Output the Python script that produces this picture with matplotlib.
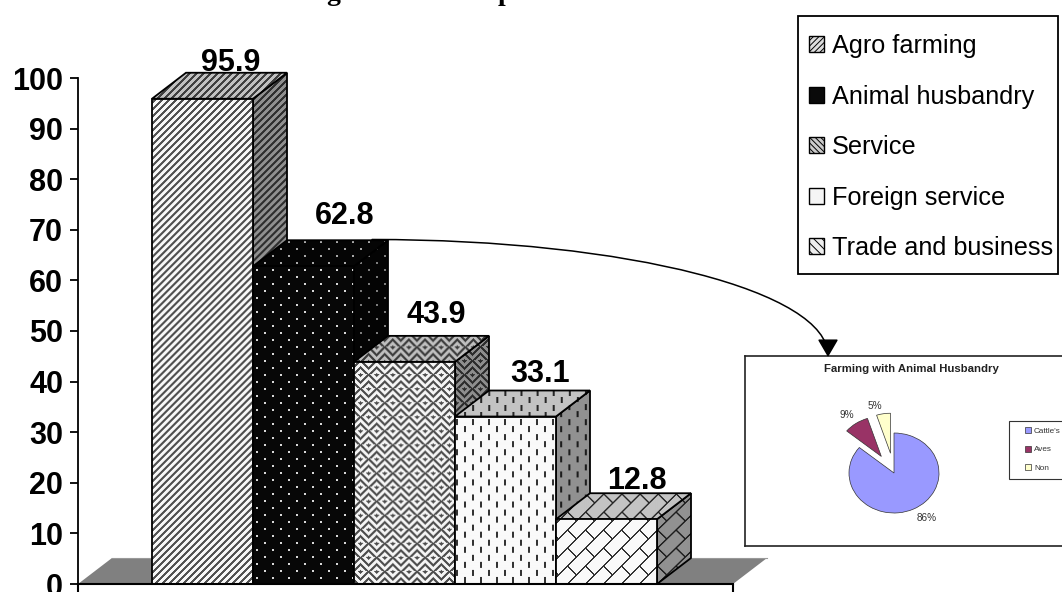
import matplotlib
matplotlib.use("Agg")
import matplotlib.pyplot as plt
import numpy as np
from matplotlib.patches import Patch, Polygon, Rectangle, FancyArrowPatch
from matplotlib.path import Path

plt.rcParams['font.family'] = ['Liberation Sans', 'DejaVu Sans']
plt.rcParams['hatch.linewidth'] = 0.7

categories = ['Agro farming', 'Animal husbandry', 'Service', 'Foreign service', 'Trade and business']
values = [95.9, 62.8, 43.9, 33.1, 12.8]
y_ticks = [0, 10, 20, 30, 40, 50, 60, 70, 80, 90, 100]

pie_labels = ["Cattle's", 'Aves', 'Non']
pie_values = [86, 9, 5]
pie_colors = ['#9999FF', '#993366', '#FFFFCC']

W, H = 1062, 592
PX_X = 101.0    # pixels per category
PX_Y = 5.06     # pixels per percent
DEPTH_X = 34 / PX_X
DEPTH_Y = 26 / PX_Y
LW = 1.3


# fill patterns, each takes pixel columns and rows and gives grey levels
def stripes(c, r):
    return np.where((c + r) % 7 < 3, 0.32, 0.97)


def dots(c, r):
    a = (c % 16 < 1.5) & (r % 14 < 1.5)
    b = ((c + 8) % 16 < 1.5) & ((r + 7) % 14 < 1.5)
    return np.where(a | b, 0.85, 0.03)


def chevrons(c, r):
    # zigzag rows, shifted sideways every few rows so the columns do not line up
    shift = np.floor(r / 14) * 8
    tri = np.abs((c + shift) % 16 - 8)
    return np.where((r + tri) % 7 < 3, 0.3, 0.96)


def dashes(c, r):
    a = (c % 16 < 2) & (r % 15 < 6)
    b = ((c + 8) % 16 < 2) & ((r + 7.5) % 15 < 6)
    return np.where(a | b, 0.2, 0.98)


def bricks(c, r):
    u = c + r
    v = c - r
    row = np.floor(u / 18)
    line = (u % 18 < 2) | ((v + row * 18) % 36 < 2)
    return np.where(line, 0.2, 0.98)


patterns = [stripes, dots, chevrons, dashes, bricks]
legend_hatches = ['//////', None, '\\\\\\\\\\\\', '|', '\\\\\\\\']
legend_faces = ['#dddddd', '#0a0a0a', '#cccccc', '#f5f5f5', '#eeeeee']


def textured_face(ax, verts, pattern, shade, z):
    """Fill a polygon given in data units with a shaded pixel pattern."""
    verts = np.array(verts)
    x0, x1 = verts[:, 0].min(), verts[:, 0].max()
    y0, y1 = verts[:, 1].min(), verts[:, 1].max()
    nx = int(round((x1 - x0) * PX_X))
    ny = int(round((y1 - y0) * PX_Y))
    c, r = np.meshgrid(np.arange(nx) + x0 * PX_X, np.arange(ny) - y1 * PX_Y)
    img = pattern(c, r) * shade
    im = ax.imshow(img, extent=(x0, x1, y0, y1), cmap='gray', vmin=0, vmax=1,
                   aspect='auto', interpolation='bilinear', zorder=z)
    im.set_clip_path(Polygon(verts, transform=ax.transData))
    ax.add_patch(Polygon(verts, closed=True, fill=False, edgecolor='black', linewidth=LW,
                         joinstyle='miter', clip_on=False, zorder=z + 0.1))


fig = plt.figure(figsize=(W / 100, H / 100), dpi=100, facecolor='white')

# main bar axes, x in category units, y in percent
ax = fig.add_axes([78 / W, (H - 584) / H, (733 - 78) / W, (584 - 40) / H])
x_left = -(152 - 78) / PX_X
x_right = (733 - 152) / PX_X

ax.add_patch(Polygon([(x_left, 0), (x_left + DEPTH_X, DEPTH_Y), (x_right + DEPTH_X, DEPTH_Y), (x_right, 0)],
                     closed=True, facecolor='#808080', edgecolor='none', clip_on=False, zorder=1))
ax.plot([x_left + DEPTH_X, x_right + DEPTH_X], [DEPTH_Y, DEPTH_Y], color='#999999', lw=0.8,
        clip_on=False, zorder=1.1)

for i, v in enumerate(values):
    l, r = i, i + 1
    z = 3 + i
    textured_face(ax, [(l, 0), (r, 0), (r, v), (l, v)], patterns[i], 1.0, z + 0.4)
    textured_face(ax, [(r, 0), (r + DEPTH_X, DEPTH_Y), (r + DEPTH_X, v + DEPTH_Y), (r, v)],
                  patterns[i], 0.58, z)
    textured_face(ax, [(l, v), (r, v), (r + DEPTH_X, v + DEPTH_Y), (l + DEPTH_X, v + DEPTH_Y)],
                  patterns[i], 0.78, z + 0.2)

# value labels sit by hand above each block, offsets in points
label_dx = [20, 30, 23, 25, 22]
label_dy = [1.5, 11.5, 9.5, 6, 3]
for i, v in enumerate(values):
    ax.annotate(f'{v}', xy=(i + 0.5, v + DEPTH_Y), xytext=(label_dx[i], label_dy[i]),
                textcoords='offset points', ha='center', va='baseline',
                fontsize=22, fontweight='bold', zorder=20, annotation_clip=False)

ax.set_xlim(x_left, x_right)
ax.set_ylim(0, (584 - 40) / PX_Y)
ax.patch.set_alpha(0)
for s in ['top', 'right']:
    ax.spines[s].set_visible(False)
ax.spines['left'].set_bounds(0, 100)
ax.spines['left'].set_linewidth(LW)
ax.spines['bottom'].set_linewidth(1.5)
ax.spines['left'].set_zorder(15)
ax.spines['bottom'].set_zorder(15)
ax.set_yticks(y_ticks)
ax.set_xticks([x_left, x_right])
ax.set_xticklabels([])
ax.tick_params(axis='y', length=5.8, width=LW, pad=5, labelsize=22)
ax.tick_params(axis='x', length=6, width=1.5)
for t in ax.get_yticklabels():
    t.set_fontweight('bold')

# category legend, frame drawn apart so its padding can differ from the rows
fig.add_artist(Rectangle((798 / W, 1 - 274 / H), 260 / W, 258 / H, transform=fig.transFigure,
                         facecolor='white', edgecolor='black', linewidth=LW))
handles = [Patch(facecolor=legend_faces[i], edgecolor='black', hatch=legend_hatches[i], linewidth=1)
           for i in range(len(categories))]
leg = fig.legend(handles, categories, loc='upper left', bbox_to_anchor=(809 / W, 1 - 34 / H),
                 bbox_transform=fig.transFigure, fontsize=18.2, frameon=False,
                 handlelength=0.6, handleheight=0.6, handletextpad=0.3, labelspacing=1.05,
                 borderpad=0, borderaxespad=0)

# inset pie, runs off the right edge of the figure
right_px = 1095
ins = fig.add_axes([745 / W, (H - 546) / H, (right_px - 745) / W, (546 - 356) / H], zorder=30)
wedges, _, autotexts = ins.pie(pie_values, colors=pie_colors, startangle=90, counterclock=False,
                               explode=[0, 0.5, 0.5], autopct='%.0f%%', pctdistance=1.32,
                               wedgeprops={'edgecolor': '#333333', 'linewidth': 0.5},
                               textprops={'fontsize': 7.2, 'color': '#333333'})
pie_label_xy = [(0.733, -1.125), (-1.04, 1.45), (-0.42, 1.675)]
for t, xy in zip(autotexts, pie_label_xy):
    t.set_position(xy)
ins.set_aspect('auto')
ins.set_xlim((745 - 894) / 45, (right_px - 894) / 45)
ins.set_ylim((473 - 546) / 40, (473 - 356) / 40)
ins.set_frame_on(True)
ins.set_axis_on()
ins.set_xticks([])
ins.set_yticks([])
ins.patch.set_facecolor('white')
for s in ins.spines.values():
    s.set_linewidth(1.2)
    s.set_edgecolor('#222222')


def inset_frac(px, py):
    # pixel position to inset axes fractions
    return (px - 745) / (right_px - 745), 1 - (py - 356) / (546 - 356)


ins.text(*inset_frac(911, 369), 'Farming with Animal Husbandry', transform=ins.transAxes,
         ha='center', va='center', fontsize=8.2, fontweight='bold', color='#222222')
ins.add_patch(Rectangle(inset_frac(1009, 479), 80 / (right_px - 745), 58 / (546 - 356),
                        transform=ins.transAxes, facecolor='white', edgecolor='#333333',
                        linewidth=0.8, zorder=4))
ins.legend(wedges, pie_labels, loc='upper left', bbox_to_anchor=inset_frac(1025, 427),
           fontsize=5.9, frameon=False, handlelength=0.75, handleheight=0.75, handletextpad=0.35,
           labelspacing=1.3, borderpad=0, borderaxespad=0, labelcolor='#333333')

# overlay in pixel units for the callout arrow and the cropped heading
over = fig.add_axes([0, 0, 1, 1], zorder=40)
over.set_xlim(0, W)
over.set_ylim(H, 0)
over.axis('off')
arc = Path([(372, 239.5), (630, 239.5), (828, 292), (828, 357)],
           [Path.MOVETO, Path.CURVE4, Path.CURVE4, Path.CURVE4])
over.add_patch(FancyArrowPatch(path=arc, arrowstyle='-|>,head_length=0.55,head_width=0.32',
                               mutation_scale=20, color='black', linewidth=1.1, shrinkA=0, shrinkB=0))
title_glyphs = ['g', 'p']
title_x = [333, 505]
for g, x in zip(title_glyphs, title_x):
    over.text(x, -0.5, g, ha='center', va='baseline', fontsize=20, fontweight='bold',
              family='Liberation Serif', clip_on=False)

fig.savefig('out.png', dpi=100, facecolor='white')
